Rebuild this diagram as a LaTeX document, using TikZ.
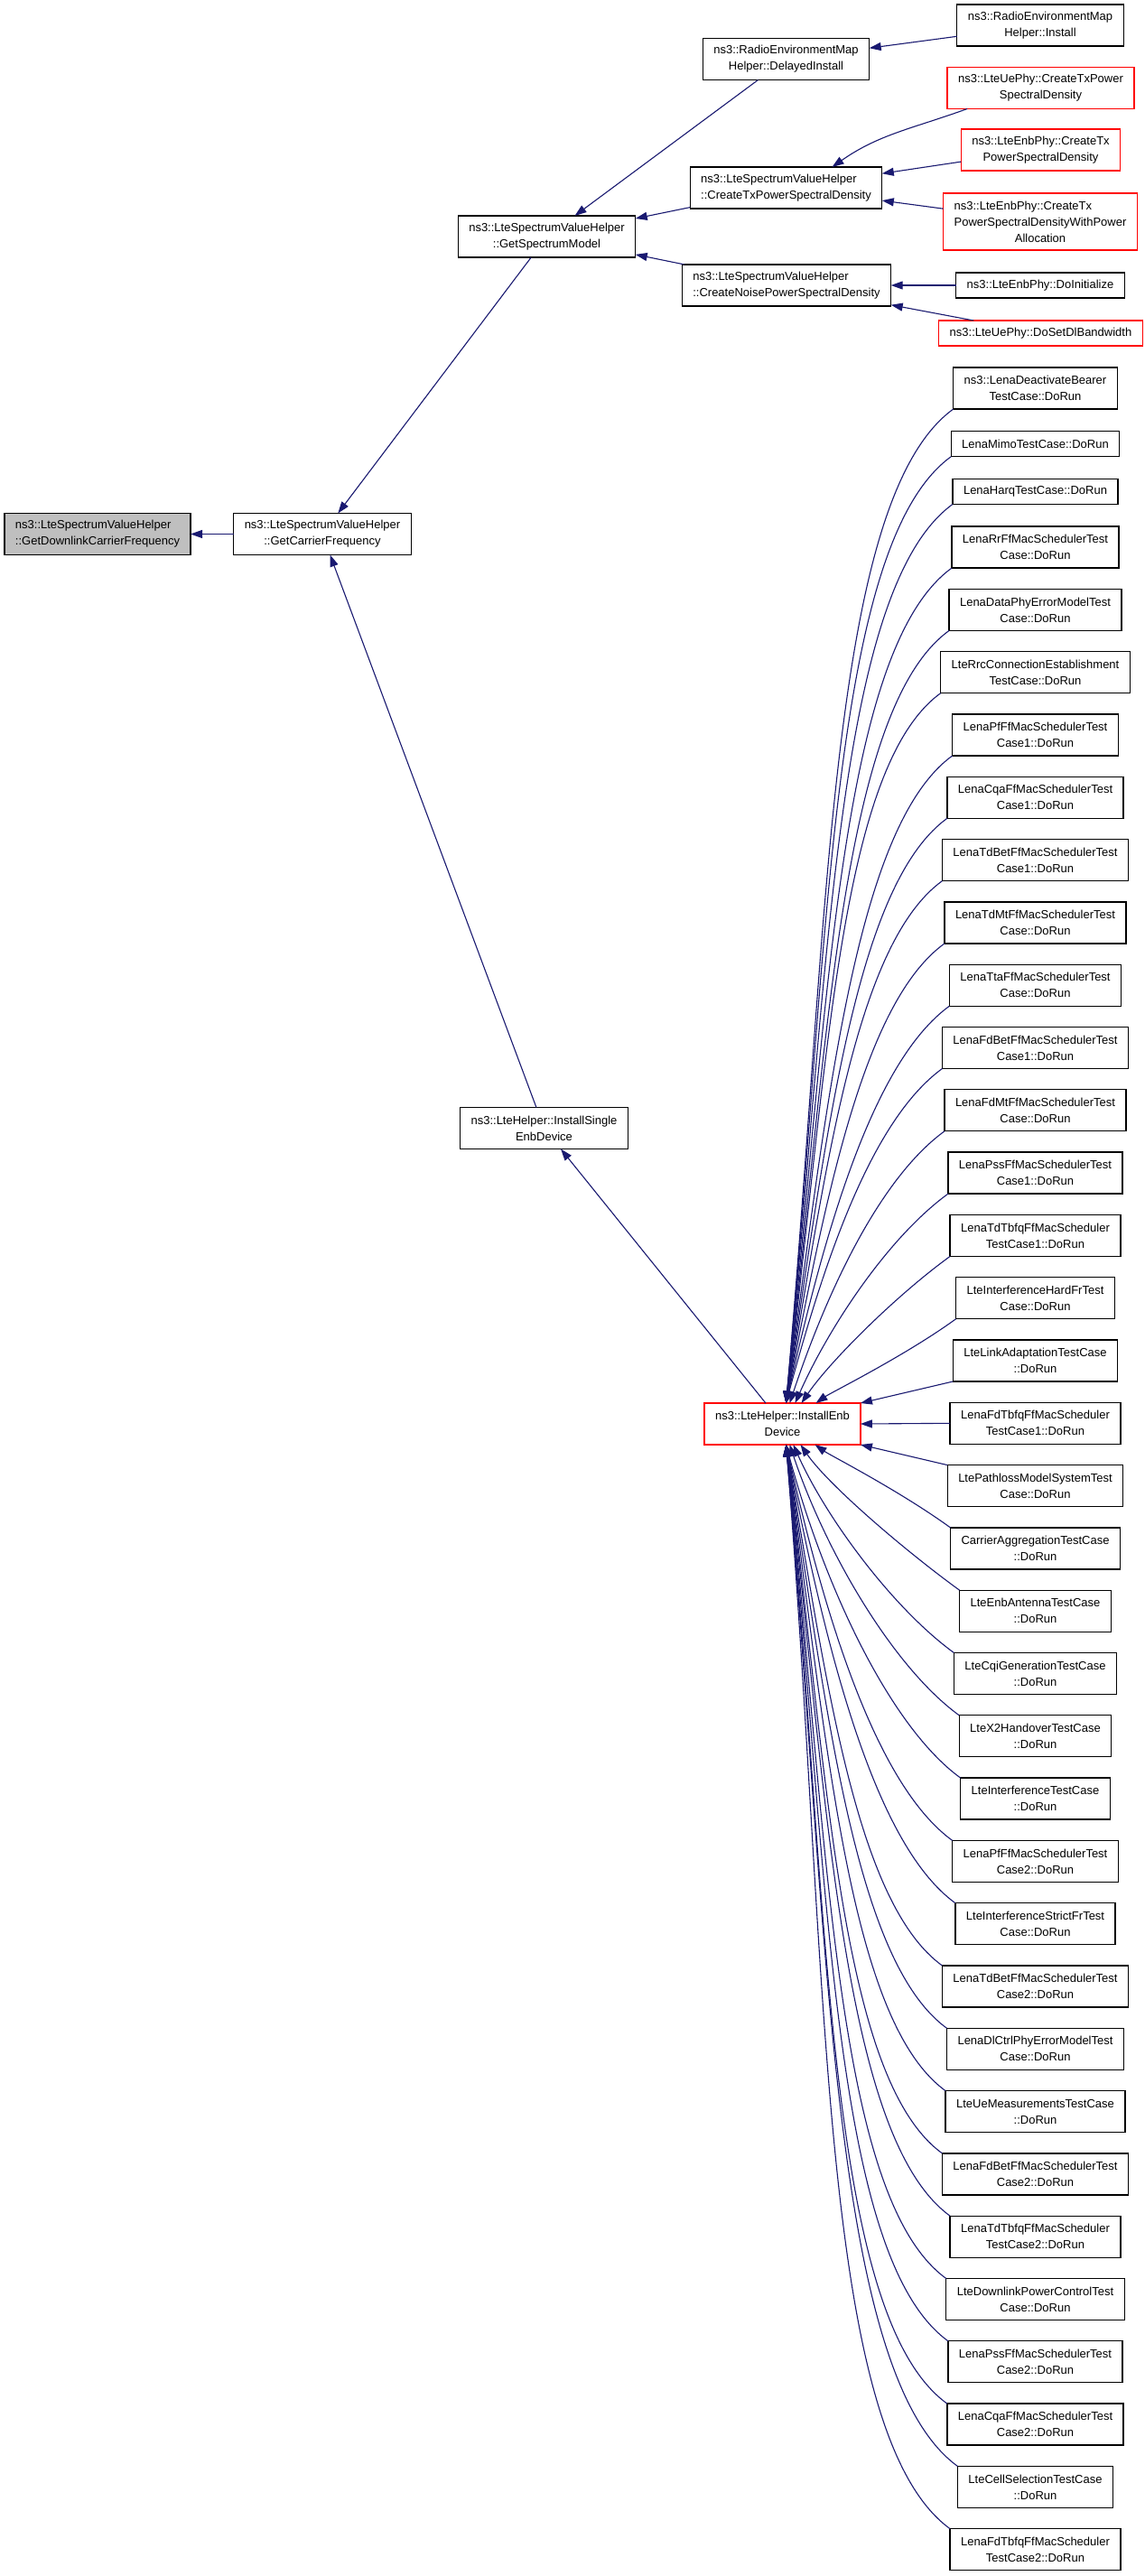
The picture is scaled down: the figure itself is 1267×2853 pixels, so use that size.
\documentclass[tikz,border=0pt]{standalone}
\usepackage{fontspec}
\setmainfont{Liberation Sans}
\usetikzlibrary{positioning,arrows.meta,calc}
\definecolor{edgeblue}{RGB}{25,25,112}
\definecolor{nodegray}{RGB}{191,191,191}

\begin{document}
\begin{tikzpicture}[x=1pt, y=1pt, node distance=23.3pt, >={Triangle[length=13pt,width=9pt]},
  every node/.style={draw,fill=white,line width=1.3pt,outer sep=0pt,inner xsep=12pt,inner ysep=2pt,minimum height=46pt,align=center,font=\fontsize{13}{18}\selectfont},
  oneline/.style={minimum height=28pt},
  nodoc/.style={draw=red},
  call/.style={->,draw=edgeblue,line width=1.1pt}]
\path[use as bounding box,fill=white] (0,0) rectangle (1267,-2853);

% callees on the left
\node (main) at (108,-591.5) [fill=nodegray,align=left] {ns3::LteSpectrumValueHelper\\::GetDownlinkCarrierFrequency};
\node (carrier) at (357,-591.5) {ns3::LteSpectrumValueHelper\\::GetCarrierFrequency};
\node (spec) at (605.5,-262) {ns3::LteSpectrumValueHelper\\::GetSpectrumModel};
\node (single) at (602.5,-1249.5) {ns3::LteHelper::InstallSingle\\EnbDevice};
\node (enb) at (866.5,-1577) [nodoc] {ns3::LteHelper::InstallEnb\\Device};

% spectrum model callers
\node (delayed) at (870.5,-65.5) {ns3::RadioEnvironmentMap\\Helper::DelayedInstall};
\node (txpsd) at (870.5,-208) [align=left] {ns3::LteSpectrumValueHelper\\::CreateTxPowerSpectralDensity};
\node (noise) at (871,-316) [align=left] {ns3::LteSpectrumValueHelper\\::CreateNoisePowerSpectralDensity};
\node (install) at (1152,-28) {ns3::RadioEnvironmentMap\\Helper::Install};
\node (uetx) at (1152.5,-97.5) [nodoc] {ns3::LteUePhy::CreateTxPower\\SpectralDensity};
\node (enbtx) at (1152.5,-166) [nodoc] {ns3::LteEnbPhy::CreateTx\\PowerSpectralDensity};
\node (enbtxalloc) at (1152,-245.5) [nodoc,align=left,minimum height=63pt] {ns3::LteEnbPhy::CreateTx\\PowerSpectralDensityWithPower\\\hfill Allocation\hfill\null};
\node (doinit) at (1152,-316) [oneline] {ns3::LteEnbPhy::DoInitialize};
\node (dosetdl) at (1152.5,-369) [nodoc,oneline] {ns3::LteUePhy::DoSetDlBandwidth};

% test cases
\node (t1) at (1146.5,-430) {ns3::LenaDeactivateBearer\\TestCase::DoRun};
\node (t2) [below=24.7pt of t1,oneline] {LenaMimoTestCase::DoRun};
\node (t3) [below=24.7pt of t2,oneline] {LenaHarqTestCase::DoRun};
\node (t4) [below=24.7pt of t3] {LenaRrFfMacSchedulerTest\\Case::DoRun};
\node (t5) [below=of t4] {LenaDataPhyErrorModelTest\\Case::DoRun};
\node (t6) [below=of t5] {LteRrcConnectionEstablishment\\TestCase::DoRun};
\node (t7) [below=of t6] {LenaPfFfMacSchedulerTest\\Case1::DoRun};
\node (t8) [below=of t7] {LenaCqaFfMacSchedulerTest\\Case1::DoRun};
\node (t9) [below=of t8] {LenaTdBetFfMacSchedulerTest\\Case1::DoRun};
\node (t10) [below=of t9] {LenaTdMtFfMacSchedulerTest\\Case::DoRun};
\node (t11) [below=of t10] {LenaTtaFfMacSchedulerTest\\Case::DoRun};
\node (t12) [below=of t11] {LenaFdBetFfMacSchedulerTest\\Case1::DoRun};
\node (t13) [below=of t12] {LenaFdMtFfMacSchedulerTest\\Case::DoRun};
\node (t14) [below=of t13] {LenaPssFfMacSchedulerTest\\Case1::DoRun};
\node (t15) [below=of t14] {LenaTdTbfqFfMacScheduler\\TestCase1::DoRun};
\node (t16) [below=of t15] {LteInterferenceHardFrTest\\Case::DoRun};
\node (t17) [below=of t16] {LteLinkAdaptationTestCase\\::DoRun};
\node (t18) [below=of t17] {LenaFdTbfqFfMacScheduler\\TestCase1::DoRun};
\node (t19) [below=of t18] {LtePathlossModelSystemTest\\Case::DoRun};
\node (t20) [below=of t19] {CarrierAggregationTestCase\\::DoRun};
\node (t21) [below=of t20] {LteEnbAntennaTestCase\\::DoRun};
\node (t22) [below=of t21] {LteCqiGenerationTestCase\\::DoRun};
\node (t23) [below=of t22] {LteX2HandoverTestCase\\::DoRun};
\node (t24) [below=of t23] {LteInterferenceTestCase\\::DoRun};
\node (t25) [below=of t24] {LenaPfFfMacSchedulerTest\\Case2::DoRun};
\node (t26) [below=of t25] {LteInterferenceStrictFrTest\\Case::DoRun};
\node (t27) [below=of t26] {LenaTdBetFfMacSchedulerTest\\Case2::DoRun};
\node (t28) [below=of t27] {LenaDlCtrlPhyErrorModelTest\\Case::DoRun};
\node (t29) [below=of t28] {LteUeMeasurementsTestCase\\::DoRun};
\node (t30) [below=of t29] {LenaFdBetFfMacSchedulerTest\\Case2::DoRun};
\node (t31) [below=of t30] {LenaTdTbfqFfMacScheduler\\TestCase2::DoRun};
\node (t32) [below=of t31] {LteDownlinkPowerControlTest\\Case::DoRun};
\node (t33) [below=of t32] {LenaPssFfMacSchedulerTest\\Case2::DoRun};
\node (t34) [below=of t33] {LenaCqaFfMacSchedulerTest\\Case2::DoRun};
\node (t35) [below=of t34] {LteCellSelectionTestCase\\::DoRun};
\node (t36) [below=of t35] {LenaFdTbfqFfMacScheduler\\TestCase2::DoRun};

\draw[call] (carrier) -- (main);
\draw[call] (spec) -- (carrier);
\draw[call] (single) -- (carrier);
\draw[call] (enb) -- (single);
\draw[call] (delayed) -- (spec);
\draw[call] (txpsd) -- (spec);
\draw[call] (noise) -- (spec);
\draw[call] (install) -- (delayed);
\draw[call] ([xshift=22pt]uetx.south west) to[out=200,in=35] ([xshift=51pt]txpsd.north);
\draw[call] (enbtx) -- (txpsd);
\draw[call] (enbtxalloc) -- (txpsd);
\draw[call] (doinit) -- (noise);
\draw[call] (dosetdl) -- (noise);

% test cases above and below InstallEnb
\foreach \i/\dx in {1/4,2/4,3/4,4/4,5/4,6/4,7/4,8/4,9/4,10/4,11/4,12/4,13/8,14/14,15/21,16/37}
  \draw[call] let \p1=(t\i.south west), \p2=($(enb.north)+(\dx,0)$), \n1={\y1-\y2},
    \n2={60+0.1*\n1}, \n3={max(20,0.52*\n1-30)}, \n4={max(35,90-5568/\n1)} in
    (\p1) .. controls +({-\n2*cos(36)},{-\n2*sin(36)}) and +({\n3*cos(\n4)},{\n3*sin(\n4)}) .. (\p2);
\draw[call] (t17.south west) -- (enb.north east);
\draw[call] (t18.west) -- (enb.east);
\draw[call] (t19.north west) -- (enb.south east);
\foreach \i/\dx in {20/36,21/20,22/12,23/8,24/4,25/4,26/4,27/4,28/4,29/4,30/4,31/4,32/4,33/4,34/4,35/4,36/4}
  \draw[call] let \p1=(t\i.north west), \p2=($(enb.south)+(\dx,0)$), \n1={\y2-\y1},
    \n2={60+0.1*\n1}, \n3={max(20,0.52*\n1-30)}, \n4={max(35,90-5568/\n1)} in
    (\p1) .. controls +({-\n2*cos(36)},{\n2*sin(36)}) and +({\n3*cos(\n4)},{-\n3*sin(\n4)}) .. (\p2);
\end{tikzpicture}
\end{document}
